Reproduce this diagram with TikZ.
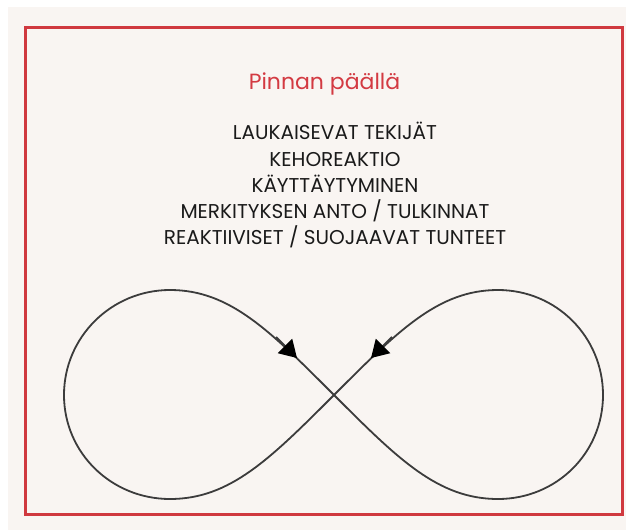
\documentclass[tikz,border=0pt]{standalone}
\usepackage{fontspec}
\setmainfont{Poppins}
\usetikzlibrary{arrows.meta}
\definecolor{bgcol}{HTML}{F9F5F2}
\definecolor{framered}{HTML}{D0393F}
\definecolor{titlered}{HTML}{D33A42}
\definecolor{curvegray}{HTML}{3C3C3C}
\definecolor{textblack}{HTML}{1A1A1A}
\begin{document}
\begin{tikzpicture}[x=1pt,y=-1pt,
  frame/.style={draw=framered,line width=3pt},
  loop/.style={draw=curvegray,line width=1.8pt},
  tip/.style={draw=curvegray,line width=1.8pt,-{Triangle[length=17pt,width=20pt,color=black,fill=black]}},
  title/.style={text=titlered,font=\fontsize{22}{22}\selectfont,inner sep=0pt,anchor=base},
  item/.style={text=textblack,font=\fontsize{20}{20}\selectfont,inner sep=0pt,anchor=base}]
\useasboundingbox[fill=white] (0,0) rectangle (626,530);
\fill[bgcol] (8,7) rectangle (626,530);
\draw[frame] (25.5,27.5) rectangle (622.5,514.5);
\node[title] (t) at (324.5,89) {Pinnan päällä};
\node[item] (l1) at (335,139.3) {LAUKAISEVAT TEKIJÄT};
\node[item] (l2) at (335,166) {KEHOREAKTIO};
\node[item] (l3) at (335,192.7) {KÄYTTÄYTYMINEN};
\node[item] (l4) at (335,218.5) {MERKITYKSEN ANTO / TULKINNAT};
\node[item] (l5) at (335,244.5) {REAKTIIVISET / SUOJAAVAT TUNTEET};
\coordinate (c) at (334,395);
\draw[loop] (c) .. controls (270,331) and (230,290) .. (170,290)
  .. controls (111.5,290) and (64,337) .. (64,395)
  .. controls (64,453) and (111.5,499) .. (170,499)
  .. controls (230,499) and (270,459) .. (c)
  .. controls (398,331) and (438,290) .. (498,290)
  .. controls (556.5,290) and (603,337) .. (603,395)
  .. controls (603,453) and (556.5,499) .. (498,499)
  .. controls (438,499) and (398,459) .. (c);
\coordinate (a1) at (276,337);
\coordinate (a1t) at (297,358);
\coordinate (a2) at (392,337);
\coordinate (a2t) at (371,358);
\draw[tip] (a1) -- (a1t);
\draw[tip] (a2) -- (a2t);
\end{tikzpicture}
\end{document}
